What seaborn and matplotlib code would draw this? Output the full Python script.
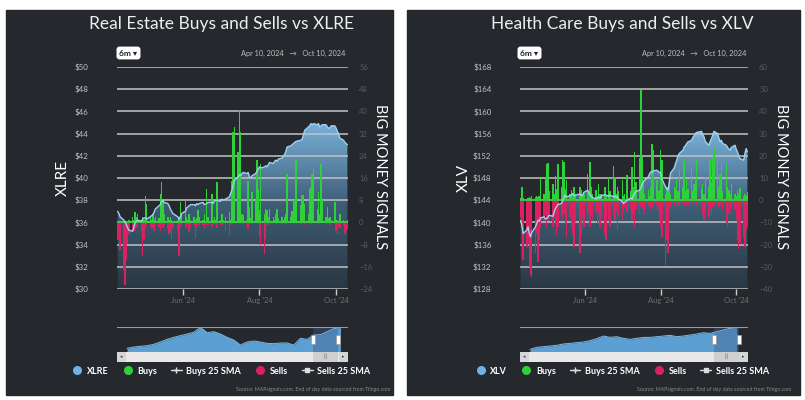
import matplotlib
matplotlib.use("Agg")
import matplotlib.pyplot as plt
import matplotlib.dates as mdates
from matplotlib.colors import LinearSegmentedColormap
from matplotlib.lines import Line2D
from matplotlib.patches import Rectangle
import numpy as np
import pandas as pd
import seaborn as sns

# trading days in the 6m window (Apr 10 - Oct 10, 2024)
dates = pd.bdate_range("2024-04-10", "2024-10-10")
dates = dates.drop(pd.to_datetime(["2024-05-27", "2024-06-19", "2024-07-04", "2024-09-02"]))

# --- Real Estate / XLRE ---
xlre_price = [
    37.0, 36.8, 36.5, 36.2, 36.0, 35.8, 35.5, 35.3, 35.2, 35.6,
    36.0, 36.1, 36.2, 36.1, 36.3, 36.4, 36.4, 36.3, 36.5, 36.6,
    36.7, 36.9, 37.2, 37.5, 37.6, 37.9, 38.0, 37.8, 37.7, 37.5,
    37.2, 37.0, 36.8, 36.5, 36.3, 36.5, 36.8, 37.0, 37.3, 37.4,
    37.5, 37.6, 37.6, 37.5, 37.7, 37.6, 37.7, 37.8, 37.6, 37.7,
    37.8, 37.8, 37.7, 37.9, 38.0, 38.0, 37.9, 38.1, 38.0, 38.1,
    38.3, 38.6, 38.9, 39.4, 39.8, 40.1, 40.3, 40.2, 40.4, 40.5,
    40.4, 40.5, 40.1, 40.0, 40.2, 40.4, 40.6, 40.8, 41.0, 40.9,
    41.0, 41.1, 41.0, 41.2, 41.4, 41.3, 41.5, 41.6, 41.5, 41.7,
    41.8, 42.0, 42.1, 42.4, 42.8, 42.9, 43.0, 43.1, 43.2, 43.3,
    43.4, 43.5, 43.9, 44.3, 44.6, 44.7, 44.9, 44.8, 44.9, 44.8,
    44.9, 44.6, 44.7, 44.8, 44.8, 44.6, 44.5, 44.5, 44.7, 44.7,
    44.5, 44.2, 44.0, 43.6, 43.4, 43.2, 43.1, 43.0,
]
re_buys = [
    0, 0, 0, 0, 0, 0, 0, 1, 2, 1,
    3.7, 2, 3, 1, 2, 1, 9.4, 6.7, 2, 1,
    3, 1, 2, 1.5, 10.4, 14.6, 8, 3, 2, 1,
    2, 1, 0.5, 1, 2, 7.3, 3, 8, 2, 1,
    3, 1, 2, 1, 1.5, 4.3, 2, 1, 3, 12.2,
    2, 10.4, 1, 2, 1, 14.6, 1, 3, 1, 2,
    3.7, 1, 15, 32.5, 34.3, 25.3, 40.5, 32.5, 3, 2.5,
    1, 15, 5.5, 1.5, 11, 8, 22.4, 12, 4.3, 21.2,
    3, 5, 4.3, 2, 5, 2, 1, 3, 5, 1.5,
    2, 1, 2, 3, 17.6, 2, 4, 8, 8, 22.4,
    6.1, 10, 9.7, 6.8, 3, 12, 12.8, 17.6, 19.4, 5,
    11, 3, 21.2, 8, 2, 5.5, 1.5, 2, 1, 7.3,
    1, 1, 0.5, 3, 1, 0.5, 0.5, 1,
]
re_sells = [
    -6.5, -6, -10, -17, -22.7, -13.7, -7.7, -4, -3, -2,
    -3, -2, -1.5, -3, -12, -6, -2, -1, -1.5, -2.5,
    -2, -3, -1, -1.5, -3, -1, -2, -1, -2.5, -4,
    -3, -6, -2, -3, -12, -2, -1, -1.5, -2, -1,
    -3.5, -2, -1, -5.5, -2, -1, -1.5, -1, -2, -1,
    -1, -1.5, -1, -0.5, -1, -2, -1, -1, -0.5, -3,
    -4.7, -1, -0.5, 0, -0.5, 0, 0, -0.5, 0, -0.5,
    -1, -2.3, -0.5, 0, -0.5, 0, 0, -0.5, -5, -8,
    -11.3, -6, -1, -0.5, -1, 0, 0, -0.5, 0, 0,
    -0.5, 0, 0, -0.5, 0, 0, 0, -0.5, 0, 0,
    0, -0.5, 0, -1, 0, 0, -0.5, 0, 0, 0,
    -0.5, 0, 0, 0, -0.5, 0, 0, -1, 0, -0.5,
    -3, -4, -1.5, -2, -1, -4, -3, -2.5,
]
# navigator (full history, relative height)
xlre_nav = [10, 14, 16, 18, 22, 29, 37, 43, 48, 53, 58, 73, 57, 60, 53, 43, 35,
            20, 29, 32, 29, 25, 24, 26, 26, 20, 40, 37, 50, 51, 60, 69, 73]

# --- Health Care / XLV ---
xlv_price = [
    140.4, 139.5, 138.0, 138.6, 139.2, 138.0, 137.4, 138.2, 139.2, 139.8,
    140.4, 140.2, 140.8, 141.0, 140.6, 140.7, 140.9, 141.3, 141.1, 141.8,
    142.5, 142.8, 143.2, 143.4, 144.0, 144.5, 144.9, 144.6, 144.8, 144.9,
    145.2, 144.8, 144.9, 145.1, 144.8, 144.9, 145.4, 145.8, 145.5, 145.0,
    144.7, 144.5, 144.2, 144.4, 144.6, 144.3, 144.8, 145.0, 144.9, 144.7,
    144.9, 144.6, 144.8, 144.5, 144.6, 144.2, 143.8, 143.4, 143.6, 144.0,
    144.4, 144.2, 144.8, 145.2, 145.6, 145.8, 146.2, 146.8, 147.3, 147.6,
    148.2, 148.7, 149.1, 149.0, 149.3, 149.4, 149.2, 149.0, 148.9, 147.8,
    146.4, 146.0, 145.8, 147.4, 148.9, 149.8, 150.6, 151.2, 152.0, 152.4,
    153.0, 153.6, 153.8, 154.2, 154.5, 154.8, 155.3, 155.6, 156.0, 156.2,
    156.4, 155.8, 155.4, 154.6, 153.9, 154.6, 155.1, 155.7, 156.4, 156.0,
    155.2, 154.5, 154.8, 154.2, 153.9, 153.5, 153.2, 153.0, 153.5, 153.9,
    153.2, 152.7, 152.0, 151.5, 151.2, 152.4, 153.3, 152.7,
]
hc_buys = [
    1, 6, 1, 0.5, 1, 1.5, 1, 2, 1.5, 2,
    1.5, 2, 10, 3, 10, 16.5, 16.8, 4, 7.5, 3,
    11, 5, 16.5, 6, 18, 17.3, 5, 9, 3, 4.5,
    2, 6, 3, 6, 4.5, 2, 3, 12, 4, 17.3,
    6, 3, 4.5, 2, 7.5, 3, 3, 6, 2, 10.5,
    4, 15.3, 10.5, 3, 6, 4, 9, 2, 3, 11.3,
    4, 15, 6, 21.8, 8, 18.8, 49.5, 19.5, 9, 3,
    4.5, 2, 6, 25.5, 22.5, 9, 4, 4.5, 22.5, 18,
    3, 6, 4, 9, 3, 6, 5, 9, 4, 13.5,
    6, 18, 4, 9, 5, 15, 4, 7.5, 9, 18,
    5, 7.5, 3, 10.5, 6, 18, 8, 19.5, 24, 20,
    6, 12, 16.5, 4, 16.7, 6, 4.5, 3, 7.5, 3,
    2, 4.5, 3, 5.3, 2, 3, 2, 3.8,
]
hc_sells = [
    -8, -12, -27, -21, -19.5, -30, -33.8, -34.5, -24, -15,
    -27.8, -18, -12, -9, -7, -12, -9, -6, -12, -8,
    -10.5, -15.8, -12, -7, -9, -6, -10.5, -16.5, -8, -12,
    -15, -21, -10, -24, -15, -8, -12, -9, -6, -12,
    -7, -9, -5, -10.5, -6, -12, -8, -15, -18, -9,
    -12, -6, -9, -5, -13.5, -7, -9, -5, -3, -5.3,
    -4, -9, -6, -12, -4, -6, -3, -3, -4, -6,
    -2, -3, -4.5, -2, -3, -2, -4.5, -9, -12, -16.5,
    -29.3, -18, -24, -4, -3, -2, -2, -1, -2, -3,
    -1.5, -2, -1, -2, -2, -1, -1.5, -1, -2, -2,
    -3, -6, -9, -5, -7.5, -4, -6, -3, -2, -2.5,
    -3, -2, -1.5, -4, -10.5, -12, -6, -5, -3, -4.5,
    -9, -18, -21.8, -19.5, -16.5, -21, -13.5, -12,
]
xlv_nav = [7, 13, 15, 17, 19, 23, 25, 27, 29, 33, 39, 47, 43, 45, 40, 37,
           40, 43, 43, 45, 47, 49, 45, 47, 50, 53, 57, 55, 60, 65, 70, 73]

month_ticks = pd.to_datetime(["2024-06-01", "2024-08-01", "2024-10-01"])
month_labels = ["Jun '24", "Aug '24", "Oct '24"]

BG = "#25292d"
GREEN = "#2fd13a"
RED = "#dc2160"
BLUE = "#6db3e6"
W, H = 805, 400

sns.set_theme(style="dark")
plt.rcParams["font.family"] = ["Lato", "DejaVu Sans"]

area_cmap = LinearSegmentedColormap.from_list("area", ["#2b3743", "#3d5c74", "#78b0da"])


def fx(px):
    return px / W


def fy(py):
    return 1 - py / H


def draw_panel(fig, off, title, ticker, price, buys, sells, nav, price_ticks, sig_ticks,
               plot_x0, plot_x1, nav_x0, nav_sel):
    # panel background
    fig.add_artist(Rectangle((fx(6 + off), fy(395)), fx(387 + (6 if off else 0)), 385 / H,
                             transform=fig.transFigure, color=BG, zorder=-1))

    ax = fig.add_axes([fx(plot_x0), fy(289), fx(plot_x1 - plot_x0), (289 - 67) / H])
    ax.set_facecolor("none")
    x0 = mdates.date2num(dates[0]) - 0.5
    x1 = mdates.date2num(dates[-1]) + 0.5

    # gradient area under price
    ylow = price_ticks[0]
    poly = ax.fill_between(dates, price, ylow, color="none", lw=0)
    grad = np.linspace(0, 1, 256).reshape(-1, 1)
    im = ax.imshow(grad, extent=[x0, x1, ylow, max(price)], origin="lower",
                   aspect="auto", cmap=area_cmap, zorder=0.5)
    im.set_clip_path(poly.get_paths()[0], transform=ax.transData)

    ax.set_ylim(price_ticks[0], price_ticks[-1])
    ax.set_yticks(price_ticks)
    ax.set_yticklabels([f"${v}" for v in price_ticks])
    ax.tick_params(axis="y", length=0, pad=20.5, labelsize=5.7, labelcolor="#c4c4c4")
    ax.set_xticks(month_ticks)
    ax.set_xticklabels(month_labels)
    ax.tick_params(axis="x", length=4, width=1, color="#cccccc", labelsize=5.5,
                   labelcolor="#6e6e6e", pad=2, bottom=True)
    ax.yaxis.grid(True, color="#c3c3c3", lw=1.1)
    ax.xaxis.grid(False)
    ax.set_axisbelow("line")
    for s in ax.spines.values():
        s.set_visible(False)

    # buys / sells on the signal axis
    ax2 = ax.twinx()
    ax2.bar(dates, buys, width=1.15, color=GREEN, lw=0)
    ax2.bar(dates, sells, width=1.15, color=RED, lw=0)
    ax2.axhline(0, color=GREEN, lw=1.3)
    ax2.set_ylim(sig_ticks[0], sig_ticks[-1])
    ax2.set_yticks(sig_ticks)
    ax2.tick_params(axis="y", length=0, pad=8, labelsize=5.5, labelcolor="#5a5a5a")
    ax2.grid(False)
    for s in ax2.spines.values():
        s.set_visible(False)

    # price line on top
    ax3 = ax.twinx()
    sns.lineplot(x=dates, y=price, ax=ax3, color="#9fd0f2", lw=1)
    ax3.set_ylim(ax.get_ylim())
    ax3.axis("off")
    ax.set_xlim(x0, x1)

    # texts
    fig.text(fx(221 + off), fy(24), title, ha="center", va="center", fontsize=12.5, color="#eeeeee")
    fig.text(fx(128.5 + off), fy(53), "6m ▾", ha="center", va="center", fontsize=6,
             weight="bold", color="#222222",
             bbox=dict(boxstyle="round,pad=0.35", fc="white", ec="none"))
    fig.text(fx(345 + off), fy(53), "Apr 10, 2024   →   Oct 10, 2024", ha="right", va="center",
             fontsize=5.3, color="#bdbdbd")
    fig.text(fx(63 + off), fy(178), ticker, rotation=90, ha="center", va="center",
             fontsize=11, color="white")
    fig.text(fx(380 + off), fy(177), "BIG MONEY SIGNALS", rotation=270, ha="center",
             va="center", fontsize=10.5, color="white")
    fig.text(fx(390 + off), fy(389), "Source: MAPsignals.com. End of day data sourced from Tiingo.com",
             ha="right", va="center", fontsize=3.8, color="#8a8a8a")

    # navigator
    nav_ax = fig.add_axes([fx(plot_x0), fy(362), fx(plot_x1 - plot_x0), (362 - 326.7) / H])
    nav_ax.set_facecolor("none")
    idx = np.arange(len(nav))
    nav_ax.fill_between(idx, nav, 0, color="#5c9fd2", lw=0)
    sns.lineplot(x=idx, y=nav, ax=nav_ax, color="#7fb9e3", lw=0.7)
    nav_ax.axhline(75, color="#9a9a9a", lw=1.5)
    nav_ax.axhspan(-31, 0, color="#e8e8e8", lw=0)
    s0, s1 = nav_sel
    nav_ax.axvspan(s0, s1, ymin=31 / 106, ymax=1, color="#3c5a8c", alpha=0.4, lw=0)
    nav_ax.add_patch(Rectangle((s0, -31), s1 - s0, 31, color="#cfcfcf", lw=0))
    nav_ax.text((s0 + s1) / 2, -15, "|||", ha="center", va="center", fontsize=3.5, color="#555")
    for s in (s0, s1):
        nav_ax.add_patch(Rectangle((s - 0.3, 22), 0.6, 27, fc="white", ec="#999999", lw=0.5, zorder=5))
    xl = (plot_x0 - nav_x0) / 6.67
    xr = (plot_x1 - nav_x0) / 6.67
    nav_ax.add_patch(Rectangle((xl, -31), 1.3, 31, color="#d6d6d6", lw=0))
    nav_ax.add_patch(Rectangle((xr - 1.3, -31), 1.3, 31, color="#d6d6d6", lw=0))
    nav_ax.text(xl + 0.65, -15, "◂", ha="center", va="center", fontsize=3.5, color="#444")
    nav_ax.text(xr - 0.65, -15, "▸", ha="center", va="center", fontsize=3.5, color="#444")
    nav_ax.set_xlim(xl, xr)
    nav_ax.set_ylim(-31, 75)
    nav_ax.axis("off")

    # legend
    handles = [
        Line2D([], [], ls="none", marker="o", markersize=6.5, markerfacecolor=BLUE, markeredgecolor="none"),
        Line2D([], [], ls="none", marker="o", markersize=6.5, markerfacecolor=GREEN, markeredgecolor="none"),
        Line2D([], [], color="#dddddd", lw=1, marker="+", markersize=4),
        Line2D([], [], ls="none", marker="o", markersize=6.5, markerfacecolor=RED, markeredgecolor="none"),
        Line2D([], [], color="#dddddd", lw=1, marker="s", markersize=3),
    ]
    labels = [ticker, "Buys", "Buys 25 SMA", "Sells", "Sells 25 SMA"]
    fig.legend(handles, labels, loc="center", bbox_to_anchor=(fx(221 + off), fy(371)), ncol=5,
               frameon=False, prop={"weight": "bold", "size": 6.5}, labelcolor="white",
               handlelength=1.2, handletextpad=0.5, columnspacing=1.5, borderpad=0)


fig = plt.figure(figsize=(8.05, 4.0), dpi=100)
fig.patch.set_facecolor("white")

draw_panel(fig, 0, "Real Estate Buys and Sells vs XLRE", "XLRE", xlre_price, re_buys, re_sells,
           xlre_nav, list(range(30, 52, 2)), list(range(-24, 64, 8)), 117, 348, 127, (27.9, 31.6))
draw_panel(fig, 401, "Health Care Buys and Sells vs XLV", "XLV", xlv_price, hc_buys, hc_sells,
           xlv_nav, list(range(128, 172, 4)), list(range(-40, 70, 10)), 520, 748, 530, (27.6, 31.3))

fig.savefig("out.png", dpi=100)
